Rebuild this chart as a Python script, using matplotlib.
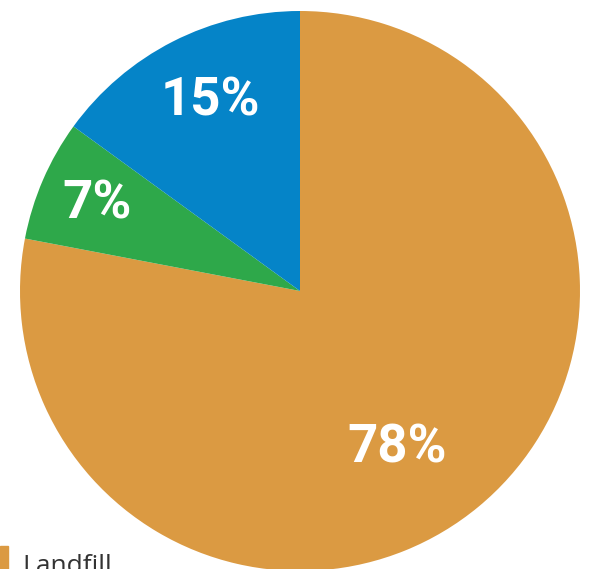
import matplotlib

matplotlib.use("Agg")
import matplotlib.pyplot as plt
from matplotlib import font_manager

categories = ["Landfill", "Other", "Recycled"]
shares = [78, 7, 15]
colors = ["#DB9A42", "#2EA84A", "#0584C8"]

# label centres in axes data units (radius = 1)
label_xy = [(0.346, -0.56), (-0.725, 0.31), (-0.321, 0.68)]

names = {f.name for f in font_manager.fontManager.ttflist}
bold_font = "Liberation Sans Narrow" if "Liberation Sans Narrow" in names else "Roboto"

W, H = 592, 569
fig = plt.figure(figsize=(W / 100, H / 100), dpi=100)
cx, cy, r = 300, 291, 280
ax = fig.add_axes([(cx - r) / W, (H - cy - r) / H, 2 * r / W, 2 * r / H])
ax.pie(shares, colors=colors, startangle=90, counterclock=False, radius=1,
       wedgeprops=dict(linewidth=0))
ax.set_xlim(-1, 1)
ax.set_ylim(-1, 1)
ax.set_aspect("equal")
ax.axis("off")

for (x, y), v in zip(label_xy, shares):
    ax.text(x, y, f"{v}%", ha="center", va="center", color="white",
            fontsize=38, fontweight="bold", family=bold_font)

# legend, cut off by the bottom edge as in the source
fig.patches.append(plt.Rectangle((0, 0), 8 / W, 23 / H, transform=fig.transFigure,
                                 color=colors[0]))
fig.text(22 / W, 1 - 554 / H, categories[0], ha="left", va="top",
         fontsize=19, color="#333333", family="Open Sans")

fig.savefig("out.png", dpi=100)
